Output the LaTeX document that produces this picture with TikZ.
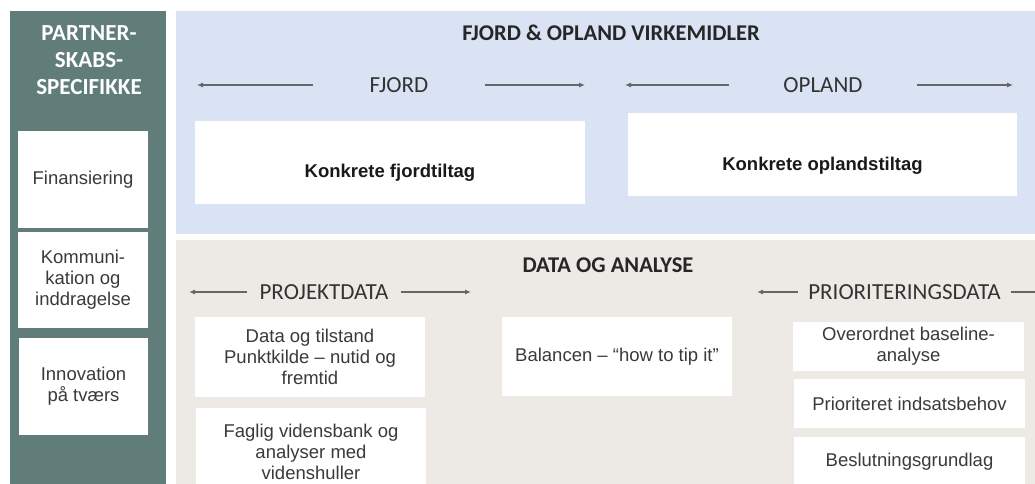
\documentclass[tikz,border=0pt]{standalone}
\usepackage{fontspec}
\setmainfont{Liberation Sans}
\newfontfamily\calfont{Carlito}
\usetikzlibrary{arrows.meta}
\definecolor{partnerGreen}{HTML}{617D79}
\definecolor{fjordBlue}{HTML}{DAE3F3}
\definecolor{dataBeige}{HTML}{EDEAE6}
\definecolor{textGrey}{HTML}{3A3A3A}

\begin{document}
\begin{tikzpicture}[x=1pt, y=-1pt,
    box/.style={fill=white, align=center, inner sep=0pt, text=textGrey, font=\fontsize{18.5}{21}\selectfont},
    head/.style={font=\calfont\bfseries\fontsize{22.5}{24}\selectfont, text=black!85},
    lbl/.style={font=\calfont\fontsize{23}{25}\selectfont, text=black!80, inner ysep=0pt},
    arr/.style={draw=black!60, line width=1.1pt, -{Latex[length=6pt,width=5pt]}}]
  \useasboundingbox (0,0) rectangle (1035,484);
  \clip (0,0) rectangle (1035,484);
  % panels
  \fill[partnerGreen] (10,11) rectangle (166,500);
  \fill[fjordBlue] (176,11) rectangle (1040,234);
  \fill[dataBeige] (176,240) rectangle (1040,500);

  % partnerskab column
  \node[align=center, text=white, font=\calfont\bfseries\fontsize{23}{27}\selectfont] (partner) at (89,60) {PARTNER-\\SKABS-\\SPECIFIKKE};
  \node[box, minimum width=130pt, minimum height=97pt] (fin) at (83,179.5) {Finansiering};
  \node[box, minimum width=130pt, minimum height=96pt] (komm) at (83,280) {Kommuni-\\kation og\\inddragelse};
  \node[box, minimum width=129pt, minimum height=97pt] (innov) at (83.5,386.5) {Innovation\\på tværs};

  % fjord & opland
  \node[head] (virke) at (611,33) {FJORD \& OPLAND VIRKEMIDLER};
  \node[lbl, inner xsep=57pt] (fjord) at (399,85) {FJORD};
  \coordinate (fjordL) at (197,85);
  \coordinate (fjordR) at (585,85);
  \draw[arr] (fjord.west) -- (fjordL);
  \draw[arr] (fjord.east) -- (fjordR);
  \node[lbl, inner xsep=54pt] (opland) at (823,85) {OPLAND};
  \coordinate (oplandL) at (625,85);
  \coordinate (oplandR) at (1013,85);
  \draw[arr] (opland.west) -- (oplandL);
  \draw[arr] (opland.east) -- (oplandR);
  \node[box, minimum width=390pt, minimum height=83pt,
    label={[font=\bfseries\fontsize{18.5}{21}\selectfont, text=black!90, yshift=-10pt]center:Konkrete fjordtiltag}] (fjordbox) at (390,162.5) {};
  \node[box, minimum width=389pt, minimum height=83pt,
    label={[font=\bfseries\fontsize{18.5}{21}\selectfont, text=black!90, yshift=-11pt]center:Konkrete oplandstiltag}] (oplandbox) at (822.5,154.5) {};

  % data og analyse
  \node[head] (data) at (608,265) {DATA OG ANALYSE};
  \node[lbl, inner xsep=12pt] (projekt) at (324,292) {PROJEKTDATA};
  \coordinate (projektL) at (189,292);
  \coordinate (projektR) at (471,292);
  \draw[arr] (projekt.west) -- (projektL);
  \draw[arr] (projekt.east) -- (projektR);
  \node[lbl, inner xsep=10pt] (prior) at (904.5,292) {PRIORITERINGSDATA};
  \coordinate (priorL) at (757,292);
  \coordinate (priorR) at (1045,292);
  \draw[arr] (prior.west) -- (priorL);
  \draw[arr] (prior.east) -- (priorR);

  \node[box, minimum width=230pt, minimum height=80pt] (tilstand) at (310,357) {Data og tilstand\\Punktkilde – nutid og\\fremtid};
  \node[box, minimum width=230pt, minimum height=88pt] (faglig) at (311,452) {Faglig vidensbank og\\analyser med\\videnshuller};
  \node[box, minimum width=230pt, minimum height=79pt] (balance) at (617,356.5) {Balancen – “how to tip it”};
  \node[box, minimum width=231pt, minimum height=49pt] (baseline) at (908.5,346.5) {Overordnet baseline-\\analyse};
  \node[box, minimum width=231pt, minimum height=49pt] (indsats) at (909.5,403.5) {Prioriteret indsatsbehov};
  \node[box, minimum width=231pt, minimum height=50pt] (beslut) at (909.5,462) {Beslutningsgrundlag};
\end{tikzpicture}
\end{document}
